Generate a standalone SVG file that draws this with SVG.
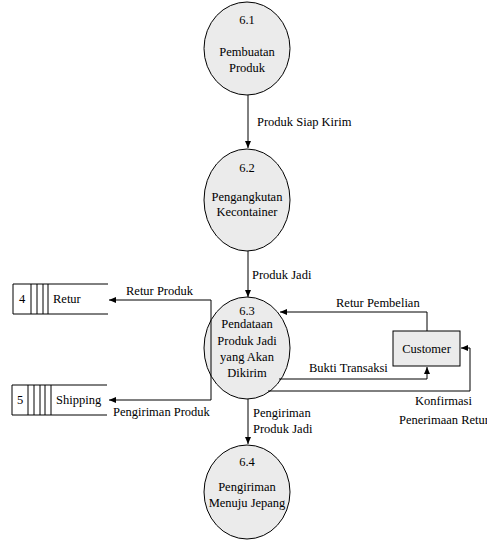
<svg xmlns="http://www.w3.org/2000/svg" width="487" height="540" viewBox="0 0 487 540" font-family="'Liberation Serif', 'Times New Roman', serif" font-size="12.5">
<defs>
<marker id="ah" markerWidth="8" markerHeight="6" refX="7" refY="3" orient="auto" markerUnits="userSpaceOnUse">
<path d="M0,0 L7,3 L0,6 Z" fill="#000"/>
</marker>
<style>
text{font-family:'Liberation Serif','Times New Roman',serif;font-size:12.5px;fill:#000}
.c{text-anchor:middle}
.proc{fill:#ebebeb;stroke:#000;stroke-width:1}
.ent{fill:#ebebeb;stroke:#000;stroke-width:1}
.st{fill:none;stroke:#000;stroke-width:1}
.cn{fill:none;stroke:#000;stroke-width:1;marker-end:url(#ah)}
</style>
</defs>
<rect width="487" height="540" fill="#fff"/>
<g id="p61">
<ellipse class="proc" cx="247" cy="48.5" rx="43" ry="46.5"/>
<text class="c" x="247" y="24">6.1</text>
<text class="c" x="247" y="56">Pembuatan</text>
<text class="c" x="247" y="72">Produk</text>
</g>
<g id="p62">
<ellipse class="proc" cx="247" cy="200" rx="43" ry="51"/>
<text class="c" x="247" y="172">6.2</text>
<text class="c" x="247" y="201">Pengangkutan</text>
<text class="c" x="247" y="216">Kecontainer</text>
</g>
<g id="p63">
<ellipse class="proc" cx="247" cy="348" rx="43" ry="51"/>
<text class="c" x="247" y="315">6.3</text>
<text class="c" x="247" y="328">Pendataan</text>
<text class="c" x="247" y="345">Produk Jadi</text>
<text class="c" x="247" y="361">yang Akan</text>
<text class="c" x="247" y="377">Dikirim</text>
</g>
<g id="p64">
<ellipse class="proc" cx="247" cy="492" rx="43" ry="47"/>
<text class="c" x="247" y="466">6.4</text>
<text class="c" x="247" y="491">Pengiriman</text>
<text class="c" x="247" y="507">Menuju Jepang</text>
</g>
<g id="ds4">
<path class="st" d="M108,284 H13 V314 H108 M31,284 V314 M37,284 V314 M43,284 V314 M48,284 V314"/>
<text class="c" x="22" y="303">4</text>
<text x="53" y="303">Retur</text>
</g>
<g id="ds5">
<path class="st" d="M107,385 H12 V415 H107 M28,385 V415 M34,385 V415 M40,385 V415 M45,385 V415 M51,385 V415"/>
<text class="c" x="20" y="404">5</text>
<text x="56" y="404">Shipping</text>
</g>
<g id="customer">
<rect class="ent" x="393" y="331" width="67" height="35"/>
<text class="c" x="426.5" y="353">Customer</text>
</g>
<g id="connectors">
<path class="cn" d="M248,95 V148"/>
<path class="cn" d="M248,251 V297"/>
<path class="cn" d="M248,399 V444"/>
<path class="cn" d="M211,350 V300 H109"/>
<path class="cn" d="M211,350 V400 H109"/>
<path class="cn" d="M427,331 V312 H280"/>
<path class="cn" d="M279,379 H427 V367"/>
<path class="cn" d="M268,391 H470 V348 H461"/>
<text x="257" y="126">Produk Siap Kirim</text>
<text x="252" y="279">Produk Jadi</text>
<text x="126" y="295">Retur Produk</text>
<text x="113" y="416">Pengiriman Produk</text>
<text x="336" y="307">Retur Pembelian</text>
<text x="309" y="372">Bukti Transaksi</text>
<text x="415" y="405">Konfirmasi</text>
<text x="399" y="424">Penerimaan Retur</text>
<text x="253" y="417">Pengiriman</text>
<text x="253" y="433">Produk Jadi</text>
</g>
</svg>
